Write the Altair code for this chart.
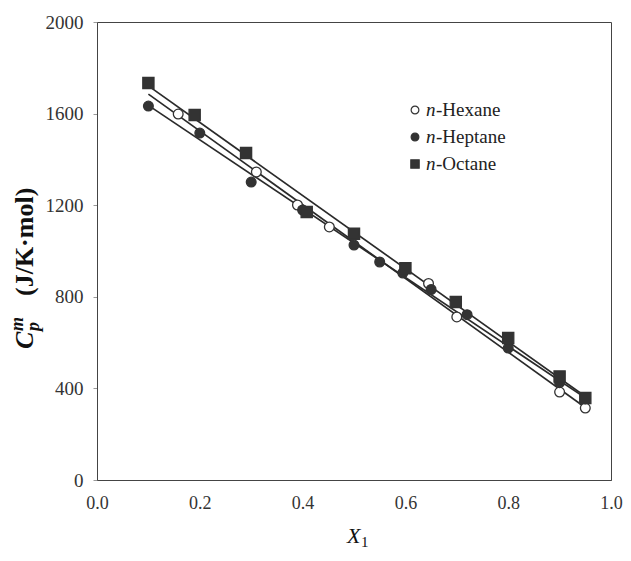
import altair as alt
import pandas as pd

# ---- data ----
hex_x = [0.158, 0.31, 0.39, 0.452, 0.645, 0.70, 0.90, 0.95]
hex_y = [1598, 1345, 1201, 1105, 858, 712, 384, 314]

hep_x = [0.10, 0.20, 0.30, 0.40, 0.50, 0.55, 0.595, 0.65, 0.72, 0.80, 0.90, 0.95]
hep_y = [1633, 1515, 1301, 1179, 1026, 952, 904, 832, 722, 576, 425, 354]

oct_x = [0.10, 0.19, 0.29, 0.408, 0.50, 0.60, 0.698, 0.80, 0.90, 0.95]
oct_y = [1734, 1594, 1428, 1170, 1075, 925, 777, 620, 452, 358]

series_names = ["Hexane", "Heptane", "Octane"]
x_ticks = [0.0, 0.2, 0.4, 0.6, 0.8, 1.0]
y_ticks = [0, 400, 800, 1200, 1600, 2000]

FONT = "Liberation Serif"
DARK = "#333333"

df = pd.concat([
    pd.DataFrame({"x": hex_x, "y": hex_y, "series": series_names[0]}),
    pd.DataFrame({"x": hep_x, "y": hep_y, "series": series_names[1]}),
    pd.DataFrame({"x": oct_x, "y": oct_y, "series": series_names[2]}),
], ignore_index=True)

xscale = alt.Scale(domain=[0, 1], nice=False)
yscale = alt.Scale(domain=[0, 2000], nice=False)

xaxis = alt.Axis(values=x_ticks, format=".1f", title=None, grid=False,
                 ticks=False, labelPadding=14, labelFlush=False, labelFontSize=18)
yaxis = alt.Axis(values=y_ticks, format="d", title=None, grid=False, tickSize=4,
                 labelPadding=10, labelFlush=False, labelFontSize=19)

lines = alt.Chart(df).transform_regression(
    "x", "y", groupby=["series"], extent=[0.1, 0.95]
).mark_line(color="#2a2a2a", strokeWidth=1.7).encode(
    x=alt.X("x:Q", scale=xscale, axis=xaxis),
    y=alt.Y("y:Q", scale=yscale, axis=yaxis),
    detail="series:N",
)

def pts(name, shape, size, fill):
    return alt.Chart(df[df.series == name]).mark_point(
        shape=shape, size=size, filled=True, fill=fill, stroke=DARK,
        strokeWidth=1.3, opacity=1
    ).encode(x=alt.X("x:Q", scale=xscale), y=alt.Y("y:Q", scale=yscale))

p_hex = pts("Hexane", "circle", 95, "white")
p_hep = pts("Heptane", "circle", 95, DARK)
p_oct = pts("Octane", "square", 125, DARK)

# ---- manual legend ----
def one(t):
    return pd.DataFrame({"t": [t]})

legend_layers = []
leg_shapes = [("circle", "white", 60), ("circle", DARK, 60), ("square", DARK, 70)]
for i, name in enumerate(series_names):
    yy = 88 + 27 * i
    sh, fl, sz = leg_shapes[i]
    legend_layers.append(
        alt.Chart(one(name)).mark_point(shape=sh, size=sz, filled=True, fill=fl,
                                        stroke=DARK, strokeWidth=1.2, opacity=1)
        .encode(x=alt.value(318), y=alt.value(yy))
    )
    legend_layers.append(
        alt.Chart(one("n")).mark_text(font=FONT, fontSize=19, fontStyle="italic",
                                      align="left", baseline="alphabetic", color="#222")
        .encode(x=alt.value(329), y=alt.value(yy + 6), text="t:N")
    )
    legend_layers.append(
        alt.Chart(one("-" + name)).mark_text(font=FONT, fontSize=19,
                                             align="left", baseline="alphabetic", color="#222")
        .encode(x=alt.value(339), y=alt.value(yy + 6), text="t:N")
    )

# ---- axis titles built from text pieces ----
def txt(t, x, y, size, style="normal", weight="normal", angle=0):
    return alt.Chart(one(t)).mark_text(
        font=FONT, fontSize=size, fontStyle=style, fontWeight=weight,
        angle=angle, align="left", baseline="alphabetic", color="#111"
    ).encode(x=alt.value(x), y=alt.value(y), text="t:N")

title_layers = [
    txt("C", -64, 327, 26, "italic", "bold", 270),
    txt("p", -58, 309, 18, "italic", "bold", 270),
    txt("m", -74, 309, 18, "italic", "bold", 270),
    txt("(J/K·mol)", -64, 274, 26, "normal", "bold", 270),
    txt("X", 250, 521, 22, "italic", "normal"),
    txt("1", 264, 525, 15, "normal", "normal"),
]

chart = alt.layer(lines, p_hex, p_hep, p_oct, *legend_layers, *title_layers).properties(
    width=514, height=458,
    padding={"left": 89, "top": 14, "right": 12, "bottom": 72},
    autosize=alt.AutoSizeParams(type="none"),
).configure_axis(
    labelFont=FONT, labelColor="#333",
    domainColor="#444", tickColor="#999", domainWidth=1,
).configure_view(stroke="#444", strokeWidth=1)

chart.save("out.html", embed_options={"renderer": "svg", "actions": False})
